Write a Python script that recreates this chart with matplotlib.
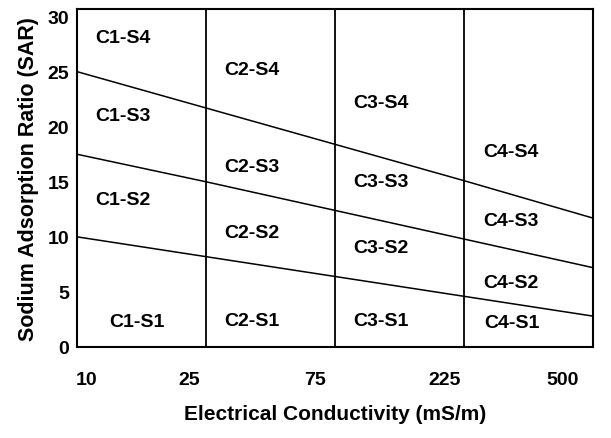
import matplotlib
matplotlib.use("Agg")
import matplotlib.pyplot as plt

# Salinity classes on the x axis (evenly spaced), SAR on the y axis
ec_ticks = ["10", "25", "75", "225", "500"]
ec_tick_pos = [0.07, 0.87, 1.84, 2.85, 3.76]
class_bounds = [1, 2, 3]

# SAR boundary curves, sampled at each class boundary (x = 0..4)
boundary_x = [0, 1, 2, 3, 4]
s1_s2 = [10.0, 8.2, 6.4, 4.6, 2.8]
s2_s3 = [17.5, 15.0, 12.4, 9.8, 7.2]
s3_s4 = [25.0, 21.7, 18.4, 15.1, 11.7]

# Class labels and where they sit
zone_labels = ["C1-S4", "C1-S3", "C1-S2", "C1-S1",
               "C2-S4", "C2-S3", "C2-S2", "C2-S1",
               "C3-S4", "C3-S3", "C3-S2", "C3-S1",
               "C4-S4", "C4-S3", "C4-S2", "C4-S1"]
zone_x = [0.35, 0.35, 0.35, 0.46,
          1.35, 1.35, 1.35, 1.35,
          2.35, 2.35, 2.35, 2.35,
          3.36, 3.36, 3.36, 3.37]
zone_y = [28.1, 21.0, 13.4, 2.3,
          25.2, 16.4, 10.4, 2.4,
          22.2, 15.0, 9.0, 2.4,
          17.8, 11.5, 5.9, 2.2]

plt.rcParams["font.family"] = ["Liberation Sans", "DejaVu Sans"]

fig = plt.figure(figsize=(6.11, 4.39), dpi=100)
ax = fig.add_axes([0.1267, 0.2073, 0.9710 - 0.1267, 0.9772 - 0.2073])

for xb in class_bounds:
    ax.axvline(xb, color="black", lw=1.3)

for curve in (s1_s2, s2_s3, s3_s4):
    ax.plot(boundary_x, curve, color="black", lw=1.1)

for lab, x, y in zip(zone_labels, zone_x, zone_y):
    ax.text(x, y, lab, ha="center", va="center", fontsize=14, fontweight="bold")

ax.set_xlim(0, 4)
ax.set_ylim(0, 30.7)
ax.set_xticks(ec_tick_pos)
ax.set_xticklabels(ec_ticks, fontsize=14, fontweight="bold")
ax.set_yticks([0, 5, 10, 15, 20, 25, 30])
ax.set_yticklabels(["0", "5", "10", "15", "20", "25", "30"], fontsize=14, fontweight="bold")
ax.tick_params(axis="both", length=0)
ax.tick_params(axis="x", pad=17)
ax.tick_params(axis="y", pad=6)

for sp in ax.spines.values():
    sp.set_linewidth(1.5)

ax.set_xlabel("Electrical Conductivity (mS/m)", fontsize=15, fontweight="bold", labelpad=12)
ax.set_ylabel("Sodium Adsorption Ratio (SAR)", fontsize=15.5, fontweight="bold", labelpad=6)

fig.savefig("out.png", dpi=100)
